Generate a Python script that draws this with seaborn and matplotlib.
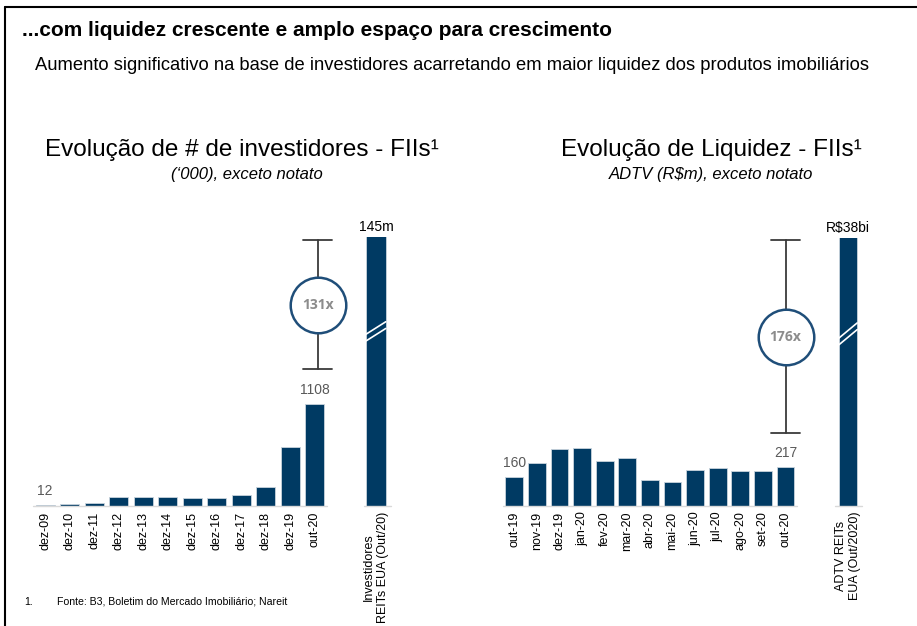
import matplotlib
matplotlib.use("Agg")
import matplotlib.pyplot as plt
import matplotlib.transforms as mtransforms
from matplotlib.lines import Line2D
import pandas as pd
import seaborn as sns

# dados - investidores (mil)
anos_invest = ["dez-09", "dez-10", "dez-11", "dez-12", "dez-13", "dez-14", "dez-15",
               "dez-16", "dez-17", "dez-18", "dez-19", "out-20"]
investidores = [12, 21, 36, 102, 101, 93, 89, 89, 121, 208, 645, 1108]
reits_investidores = 145000  # 145m
reits_invest_label = "Investidores\nREITs EUA (Out/20)"

# dados - liquidez ADTV (R$m)
meses_adtv = ["out-19", "nov-19", "dez-19", "jan-20", "fev-20", "mar-20", "abr-20",
              "mai-20", "jun-20", "jul-20", "ago-20", "set-20", "out-20"]
adtv = [160, 241, 316, 322, 249, 266, 145, 134, 201, 210, 192, 197, 217]
reits_adtv = 38000  # R$38bi
reits_adtv_label = "ADTV REITs\nEUA (Out/2020)"

AZUL = "#003A63"
CINZA_EIXO = "#D9D9D9"
W, H = 917, 626

sns.set_style("white")
plt.rcParams["font.family"] = ["Liberation Sans", "DejaVu Sans"]
plt.rcParams["text.color"] = "black"

fig = plt.figure(figsize=(W / 100, H / 100), dpi=100)


def px_axes(x0, y_top, width, height):
    return fig.add_axes([x0 / W, 1 - (y_top + height) / H, width / W, height / H])


def grafico(ax, cats, vals, extra_val, extra_pos, extra_label, extra_txt, ytop, xright,
            seg, bracket_x, cap_half, br_top, br_bot, circ_y, mult, brk):
    df = pd.DataFrame({"cat": cats, "val": vals})
    sns.barplot(data=df, x="cat", y="val", color=AZUL, width=0.78, saturation=1,
                edgecolor="#C8D3DD", linewidth=0.6, ax=ax)
    ax.bar([extra_pos], [extra_val], width=0.8, color=AZUL, edgecolor="#C8D3DD", linewidth=0.6)
    ax.set_ylim(0, ytop)
    ax.set_xlim(-0.5, xright)
    for s in ax.spines.values():
        s.set_visible(False)
    ax.set_yticks([])
    ax.set_xlabel("")
    ax.set_ylabel("")
    n = len(cats)
    ax.set_xticks(list(range(n)) + [extra_pos])
    ax.set_xticklabels(cats + [extra_label], rotation=90, fontsize=9, color="black",
                       multialignment="center", va="top")
    ax.tick_params(axis="x", which="major", length=0, pad=4)
    ax.set_xticks([i - 0.5 for i in range(n + 1)] + list(seg), minor=True)
    ax.tick_params(axis="x", which="minor", length=3, color=CINZA_EIXO, width=0.8)
    ax.plot([-0.5, n - 0.5], [0, 0], color=CINZA_EIXO, lw=1, clip_on=False, zorder=1)
    ax.plot(list(seg), [0, 0], color=CINZA_EIXO, lw=1, clip_on=False, zorder=1)

    # rótulos de valor (primeiro e último)
    for i in (0, n - 1):
        ax.annotate(str(vals[i]), (i, vals[i]), xytext=(0, 5), textcoords="offset points",
                    ha="center", va="bottom", fontsize=10, color="#595959")

    trans = mtransforms.blended_transform_factory(ax.transData, ax.transAxes)
    ax.text(extra_pos, 1.01, extra_txt, transform=trans, ha="center", va="bottom",
            fontsize=10, color="black")

    # quebra na barra
    for off in (0.0, -0.025):
        ax.plot([extra_pos - 0.4, extra_pos + 0.4], [brk[0] + off, brk[1] + off],
                transform=trans, color="white", lw=1.2, zorder=5)

    # colchete com multiplicador
    ax.plot([bracket_x, bracket_x], [br_bot, br_top], transform=trans, color="#3A3A3A",
            lw=1.3, zorder=3, clip_on=False)
    for yy in (br_top, br_bot):
        ax.plot([bracket_x - cap_half, bracket_x + cap_half], [yy, yy], transform=trans,
                color="#3A3A3A", lw=1.3, zorder=3, clip_on=False)
    ax.plot([bracket_x], [circ_y], transform=trans, marker="o", markersize=40,
            markerfacecolor="white", markeredgecolor="#1F4E79", markeredgewidth=1.8,
            zorder=4, clip_on=False)
    ax.text(bracket_x, circ_y, mult, transform=trans, ha="center", va="center",
            fontsize=10, fontweight="bold", color="#8C8C8C", zorder=5,
            family=["Open Sans", "DejaVu Sans"])


# gráfico da esquerda
ax1 = px_axes(33, 237, 15.1 * 24.5, 269)
grafico(ax1, anos_invest, investidores, reits_investidores, 13.5, reits_invest_label, "145m",
        1108 * 269 / 102, 14.6, (13.0, 14.1), 11.12, 0.59, 0.989, 0.509, 0.747, "131x",
        (0.639, 0.685))

# gráfico da direita
ax2 = px_axes(503, 238, 16.1 * 22.6, 268)
grafico(ax2, meses_adtv, adtv, reits_adtv, 14.77, reits_adtv_label, "R$38bi",
        268 / 0.18, 15.6, (14.2, 15.4), 12.0, 0.65, 0.993, 0.2735, 0.632, "176x",
        (0.627, 0.683))

# títulos
fig.text(22 / W, 1 - 30 / H, "...com liquidez crescente e amplo espaço para crescimento",
         fontsize=15, fontweight="bold", va="center", ha="left")
fig.text(35 / W, 1 - 66 / H,
         "Aumento significativo na base de investidores acarretando em maior liquidez dos produtos imobiliários",
         fontsize=13.2, va="center", ha="left")
fig.text(242 / W, 1 - 150 / H, "Evolução de # de investidores - FIIs¹", fontsize=17.5,
         ha="center", va="center")
fig.text(247 / W, 1 - 175 / H, "(‘000), exceto notato", fontsize=12, style="italic",
         ha="center", va="center")
fig.text(711 / W, 1 - 150 / H, "Evolução de Liquidez - FIIs¹", fontsize=17.5,
         ha="center", va="center")
fig.text(711 / W, 1 - 175 / H, "ADTV (R$m), exceto notato", fontsize=12, style="italic",
         ha="center", va="center")

# nota de rodapé
fig.text(24 / W, 1 - 602 / H, "1.", fontsize=7.6, va="center")
fig.text(57 / W, 1 - 602 / H, "Fonte: B3, Boletim do Mercado Imobiliário; Nareit",
         fontsize=7.6, va="center")

# moldura
fig.add_artist(Line2D([5 / W, 1], [1 - 6.5 / H, 1 - 6.5 / H], color="black", lw=1.5))
fig.add_artist(Line2D([5 / W, 5 / W], [0, 1 - 6.5 / H], color="black", lw=1.5))

fig.savefig("out.png", dpi=100)
